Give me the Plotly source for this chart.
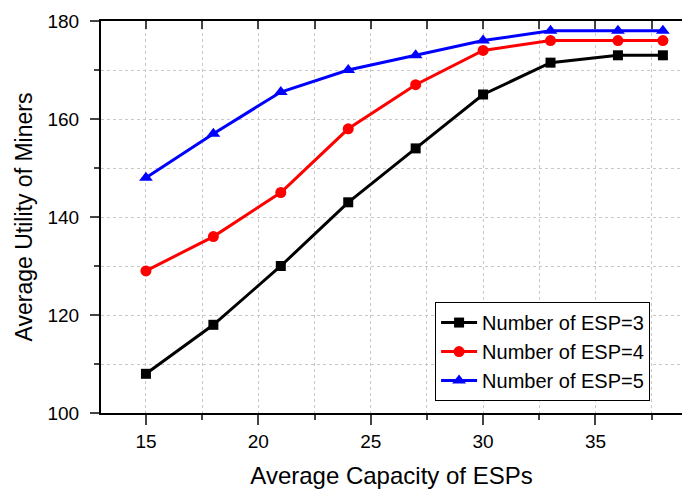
import plotly.graph_objects as go

x_vals = [15, 18, 21, 24, 27, 30, 33, 36, 38]
esp3 = [108, 118, 130, 143, 154, 165, 171.5, 173, 173]
esp4 = [129, 136, 145, 158, 167, 174, 176, 176, 176]
esp5 = [148, 157, 165.5, 170, 173, 176, 178, 178, 178]
names = ["Number of ESP=3", "Number of ESP=4", "Number of ESP=5"]
colors = ["#000000", "#ff0000", "#0000ff"]
symbols = ["square", "circle", "triangle-up"]
sizes = [10, 11, 12]

fig = go.Figure()
for ys, n, c, s, sz in zip([esp3, esp4, esp5], names, colors, symbols, sizes):
    fig.add_trace(go.Scatter(x=x_vals, y=ys, name=n, mode="lines+markers",
                             line=dict(color=c, width=3),
                             marker=dict(color=c, symbol=s, size=sz)))
# invisible helper trace so the mirrored top axis (inside ticks) is drawn
fig.add_trace(go.Scatter(x=[x_vals[0]], y=[esp3[0]], xaxis="x2", mode="markers",
                         marker=dict(opacity=0), showlegend=False, hoverinfo="skip"))

font = "Liberation Sans, Arial, sans-serif"
xr = [13, 38.85]
grid = dict(showgrid=True, gridcolor="#c8c8c8", griddash="dot", gridwidth=1)
fig.update_layout(
    width=684, height=489,
    margin=dict(l=101, r=2, t=21, b=76),
    plot_bgcolor="white", paper_bgcolor="white",
    font=dict(family=font, size=19, color="black"),
    showlegend=True,
    legend=dict(x=0.575, y=0.283, xanchor="left", yanchor="top",
                bgcolor="white", bordercolor="black", borderwidth=1,
                font=dict(size=20, family=font), tracegroupgap=0,
                itemwidth=36),
    xaxis=dict(range=xr, tickvals=[15, 20, 25, 30, 35],
               ticks="outside", ticklen=10, tickwidth=1.5,
               minor=dict(dtick=2.5, tick0=15, ticks="outside", ticklen=5, **grid),
               showline=True, linecolor="black", linewidth=2,
               mirror=False, zeroline=False, **grid,
               title=dict(text="Average Capacity of ESPs", font=dict(size=24), standoff=18),
               tickfont=dict(size=19)),
    xaxis2=dict(range=xr, overlaying="x", side="top", dtick=2.5, tick0=15,
                ticks="inside", ticklen=8, tickwidth=1.5, showticklabels=False,
                showline=True, linecolor="black", linewidth=2, showgrid=False,
                zeroline=False),
    yaxis=dict(range=[100, 180], tickvals=[100, 120, 140, 160, 180],
               ticks="outside", ticklen=9, tickwidth=1.5,
               minor=dict(dtick=10, tick0=100, ticks="outside", ticklen=5, **grid),
               showline=True, linecolor="black", linewidth=2,
               mirror=False, zeroline=False, **grid,
               ticklabelstandoff=7,
               title=dict(text="Average Utility of Miners", font=dict(size=23), standoff=8),
               tickfont=dict(size=19)),
)
fig.write_html("out.html")
